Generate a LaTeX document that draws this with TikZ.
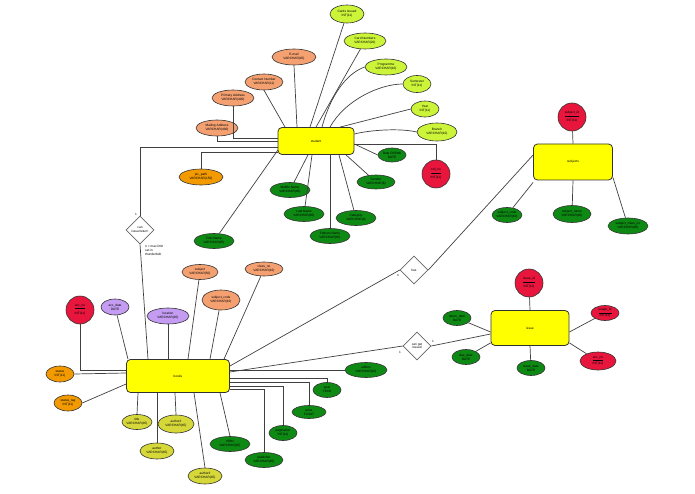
\documentclass[tikz,border=0pt]{standalone}
\usepackage{fontspec}
\setmainfont{Liberation Sans}
\usetikzlibrary{shapes.geometric}
\definecolor{ent}{HTML}{FFFF00}
\definecolor{sal}{HTML}{F4A070}
\definecolor{lg}{HTML}{CCF53A}
\definecolor{gr}{HTML}{0E8A14}
\definecolor{rd}{HTML}{E8163C}
\definecolor{org}{HTML}{F29A00}
\definecolor{pur}{HTML}{C49CF2}
\definecolor{oy}{HTML}{D6D83A}
\begin{document}
\begin{tikzpicture}[x=1pt,y=-1pt,
  every node/.style={font=\fontsize{3.2}{3.8}\selectfont, align=center, inner sep=0pt},
  ent/.style={draw=black!80, line width=0.8pt, fill=ent, rounded corners=4pt},
  attr/.style={ellipse, draw=black!80, line width=0.6pt},
  key/.style={circle, draw=black!80, line width=0.6pt, fill=rd, minimum size=28pt},
  rel/.style={diamond, draw=black!60, line width=0.6pt, fill=white, minimum size=28pt, aspect=1},
  ln/.style={draw=black!75, line width=0.7pt}]
\useasboundingbox (0,0) rectangle (695,494);
% entities
\node[ent, minimum width=76pt, minimum height=27pt] (student) at (316,141) {student};
\node[ent, minimum width=103pt, minimum height=33pt] (books) at (178,376) {books};
\node[ent, minimum width=79pt, minimum height=36pt] (subjects) at (573,162) {subjects};
\node[ent, minimum width=78pt, minimum height=35pt] (issue) at (530,328) {issue};
% student attributes
\node[attr, fill=lg, minimum width=34pt, minimum height=18pt] (cards) at (347,14) {Cards Issued\\INT(11)};
\node[attr, fill=lg, minimum width=42pt, minimum height=16pt] (cardn) at (365,41) {Card Numbers\\VARCHAR(20)};
\node[attr, fill=lg, minimum width=42pt, minimum height=16pt] (prog) at (386,67) {Programme\\VARCHAR(10)};
\node[attr, fill=lg, minimum width=28pt, minimum height=17pt] (sem) at (417,84) {Semester\\INT(11)};
\node[attr, fill=lg, minimum width=28pt, minimum height=16pt] (year) at (425,109) {Year\\INT(11)};
\node[attr, fill=lg, minimum width=40pt, minimum height=18pt] (branch) at (437,132) {Branch\\VARCHAR(10)};
\node[attr, fill=sal, minimum width=44pt, minimum height=16pt] (email) at (294,57) {E-mail\\VARCHAR(45)};
\node[attr, fill=sal, minimum width=38pt, minimum height=16pt] (contact) at (264,82) {Contact Number\\VARCHAR(11)};
\node[attr, fill=sal, minimum width=42pt, minimum height=16pt] (prim) at (233,98) {Primary Address\\VARCHAR(400)};
\node[attr, fill=sal, minimum width=42pt, minimum height=16pt] (mail) at (217,128) {Mailing Address\\VARCHAR(400)};
\node[attr, fill=org, minimum width=44pt, minimum height=16pt] (pic) at (201,177) {pic\_path\\VARCHAR(150)};
\node[attr, fill=gr, minimum width=28pt, minimum height=14pt] (dob) at (392,155) {Date Of Birth\\DATE};
\node[key, minimum size=28pt] (roll) at (436,174) {\underline{roll\_no}\\[2pt]INT(11)};
\node[attr, fill=gr, minimum width=38pt, minimum height=14pt] (gender) at (376,182) {Gender\\VARCHAR(6)};
\node[attr, fill=gr, minimum width=40pt, minimum height=15pt] (mid) at (290,190) {Middle Name\\VARCHAR(45)};
\node[attr, fill=gr, minimum width=40pt, minimum height=15pt] (last) at (304,214) {Last Name\\VARCHAR(45)};
\node[attr, fill=gr, minimum width=40pt, minimum height=15pt] (cat) at (356,218) {Category\\VARCHAR(4)};
\node[attr, fill=gr, minimum width=40pt, minimum height=15pt] (fath) at (330,236) {Fathers Name\\VARCHAR(45)};
\node[attr, fill=gr, minimum width=40pt, minimum height=15pt] (first) at (214,241) {First Name\\VARCHAR(45)};
% books attributes
\node[key, minimum size=28pt] (accno) at (80,310) {\underline{acc\_no}\\[2pt]INT(11)};
\node[attr, fill=pur, minimum width=28pt, minimum height=16pt] (accd) at (115,307) {acc\_date\\DATE};
\node[attr, fill=pur, minimum width=42pt, minimum height=16pt] (loc) at (168,316) {location\\VARCHAR(45)};
\node[attr, fill=sal, minimum width=36pt, minimum height=15pt] (subj) at (200,272) {subject\\VARCHAR(50)};
\node[attr, fill=sal, minimum width=38pt, minimum height=20pt] (subc) at (221,300) {subject\_code\\VARCHAR(10)};
\node[attr, fill=sal, minimum width=38pt, minimum height=14pt] (cls) at (264,269) {class\_no\\VARCHAR(10)};
\node[attr, fill=org, minimum width=28pt, minimum height=16pt] (status) at (60,374) {status\\INT(11)};
\node[attr, fill=org, minimum width=28pt, minimum height=16pt] (stag) at (68,403) {status\_tag\\INT(11)};
\node[attr, fill=oy, minimum width=30pt, minimum height=15pt] (title) at (137,422) {title\\VARCHAR(45)};
\node[attr, fill=oy, minimum width=36pt, minimum height=18pt] (au2) at (176,424) {author2\\VARCHAR(45)};
\node[attr, fill=oy, minimum width=34pt, minimum height=16pt] (au) at (157,451) {author\\VARCHAR(45)};
\node[attr, fill=oy, minimum width=34pt, minimum height=16pt] (au3) at (205,476) {author3\\VARCHAR(45)};
\node[attr, fill=gr, minimum width=40pt, minimum height=15pt] (isbn) at (230,444) {ISBN\\VARCHAR(45)};
\node[attr, fill=gr, minimum width=38pt, minimum height=15pt] (pub) at (264,460) {publisher\\VARCHAR(45)};
\node[attr, fill=gr, minimum width=28pt, minimum height=15pt] (pag) at (283,433) {pagination\\INT(11)};
\node[attr, fill=gr, minimum width=34pt, minimum height=13pt] (price) at (309,412) {price\\FLOAT};
\node[attr, fill=gr, minimum width=28pt, minimum height=15pt] (yr) at (327,390) {year\\YEAR};
\node[attr, fill=gr, minimum width=42pt, minimum height=15pt] (ed) at (366,370) {edition\\VARCHAR(10)};
% subjects attributes
\node[key] (sid) at (572,117) {\underline{subject\_id}\\[2pt]INT(11)};
\node[attr, fill=gr, minimum width=28pt, minimum height=15pt] (scode) at (507,215) {subject\_code\\VARCHAR(10)};
\node[attr, fill=gr, minimum width=38pt, minimum height=17pt] (sname) at (572,214) {subject\_name\\VARCHAR(45)};
\node[attr, fill=gr, minimum width=40pt, minimum height=16pt] (sclass) at (628,226) {subject\_class\_no\\VARCHAR(45)};
% issue attributes
\node[key] (iid) at (529,283) {\underline{issue\_id}\\[2pt]INT(11)};
\node[attr, fill=gr, minimum width=28pt, minimum height=15pt] (rdate) at (457,318) {return\_date\\DATE};
\node[attr, fill=gr, minimum width=28pt, minimum height=15pt] (ddate) at (466,357) {due\_date\\DATE};
\node[attr, fill=gr, minimum width=28pt, minimum height=15pt] (idate) at (531,368) {issue\_date\\DATE};
\node[attr, fill=rd, minimum width=28pt, minimum height=15pt] (usr) at (605,313) {\underline{usage\_id}\\INT(11)};
\node[attr, fill=rd, minimum width=36pt, minimum height=18pt] (iacc) at (598,361) {\underline{acc\_no}\\INT(11)};
% relationships
\node[rel, minimum size=28pt] (res) at (140,230) {can\\issue/return};
\node[rel, minimum size=28pt] (has) at (414,270) {has};
\node[rel, minimum size=28pt] (get) at (417,346) {can get\\issued};
\node at (136,214) {1};
\node[align=left, anchor=north west] at (145,245) {n = max limit\\set in\\thunderbolt};
\node at (398,276) {n};
\node at (433,341) {1};
\node at (400,352) {1};
% student connectors
\draw[ln] (student.north) ++(-6,0) -- (cards);
\draw[ln] (student.north) ++(-0,0) -- (cardn);
\draw[ln] (student.north) ++(6,0) .. controls (332,90) and (350,72) .. (prog.west);
\draw[ln] (student.north) ++(14,0) .. controls (345,100) and (380,84) .. (sem.west);
\draw[ln] (student.north) ++(24,0) -- (year.west);
\draw[ln] (student.east) ++(0,-7) .. controls (370,130) and (400,128) .. (branch.west);
\draw[ln] (email.south) -- ([xshift=-19pt]student.north);
\draw[ln] (contact.south) -- ([xshift=-31pt]student.north);
\draw[ln] (prim.south) |- ([yshift=3pt]student.west);
\draw[ln] (mail.south) |- ([yshift=0pt]student.west);
\draw[ln] (pic.north) |- ([yshift=-11pt]student.west);
\draw[ln] ([yshift=-3pt]student.east) -- (dob.west);
\draw[ln] ([yshift=-3pt]student.east) -| (roll.north);
\draw[ln] ([xshift=30pt]student.south) -- (gender);
\draw[ln] ([xshift=-8pt]student.south) -- (mid);
\draw[ln] ([xshift=-4pt]student.south) -- (last);
\draw[ln] ([xshift=23pt]student.south) -- (cat);
\draw[ln] ([xshift=14pt]student.south) -- (fath);
\draw[ln] ([xshift=-38pt,yshift=5pt]student.south) -- (first);
\draw[ln] ([yshift=-6pt]student.west) -| (res.north);
\draw[ln] (res.south) -- ([xshift=-30pt]books.north);
% books connectors
\draw[ln] (accno.south) |- ([yshift=6pt]books.west);
\draw[ln] (accd) -- ([xshift=-50pt]books.north);
\draw[ln] (loc) -- ([xshift=-10pt]books.north);
\draw[ln] (subj) -- ([xshift=10pt]books.north);
\draw[ln] (subc) -- ([xshift=32pt]books.north);
\draw[ln] (cls) -- ([xshift=46pt]books.north);
\draw[ln] (status.east) -- ([yshift=3pt]books.west);
\draw[ln] (stag.east) -- ([yshift=-8pt]books.west);
\draw[ln] ([xshift=-40pt]books.south) -- (title.north);
\draw[ln] ([xshift=-21pt]books.south) -- (au.north);
\draw[ln] ([xshift=-3pt]books.south) -- (au2.north);
\draw[ln] ([xshift=16pt]books.south) -- (au3.north);
\draw[ln] ([xshift=42pt]books.south) -- (isbn.north);
\draw[ln] ([yshift=-13pt]books.east) -| (pub.north);
\draw[ln] ([yshift=-10pt]books.east) -| (pag.north);
\draw[ln] ([yshift=-6pt]books.east) -| (price.north);
\draw[ln] ([yshift=-2pt]books.east) -| (yr.north);
\draw[ln] ([yshift=6pt]books.east) -- (ed.west);
\draw[ln] ([yshift=10pt]books.east) -- (has.west);
\draw[ln] (has.east) -- ([yshift=7pt]subjects.west);
\draw[ln] ([yshift=4pt]books.east) -- (get.west);
\draw[ln] (get.east) -- ([yshift=-6pt]issue.west);
% subjects connectors
\draw[ln] (sid) -- (subjects.north);
\draw[ln] ([yshift=-2pt]subjects.south west) -- (scode);
\draw[ln] (subjects.south) -- (sname);
\draw[ln] ([yshift=3pt]subjects.south east) -- (sclass);
% issue connectors
\draw[ln] (iid) -- (issue.north);
\draw[ln] (rdate) -- ([yshift=-4pt]issue.west);
\draw[ln] (ddate) -- ([yshift=3pt]issue.south west);
\draw[ln] (idate) -- (issue.south);
\draw[ln] (usr) -- ([yshift=-4pt]issue.east);
\draw[ln] (iacc) -- ([yshift=3pt]issue.south east);
\end{tikzpicture}
\end{document}
